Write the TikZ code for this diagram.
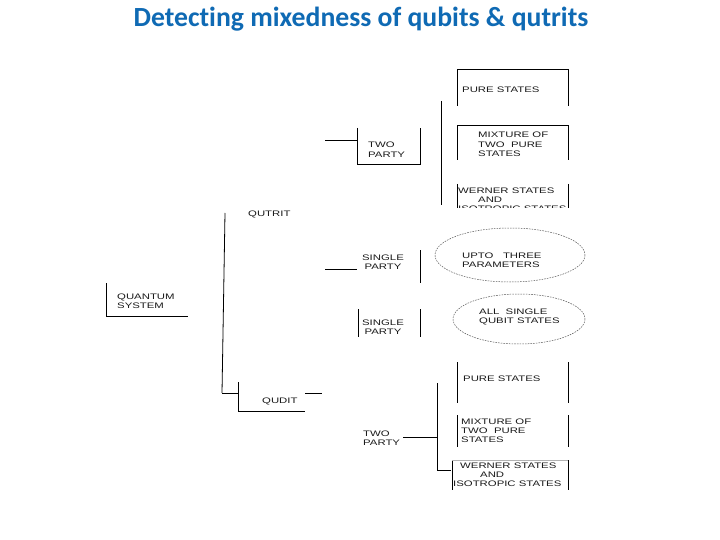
\documentclass[tikz,border=0pt]{standalone}
\usepackage{fontspec}
\setmainfont{Liberation Sans}
\newfontfamily\titlefont[Ligatures=NoCommon]{Carlito}
\newfontfamily\diagfont[FakeStretch=1.42]{Liberation Sans}
\definecolor{titleblue}{HTML}{0F6AB4}
\definecolor{ink}{HTML}{1A1A1A}
\begin{document}
\begin{tikzpicture}[x=1pt,y=-1pt,
  lbl/.style={inner sep=0pt,anchor=base west,align=left,text=ink,
    font=\diagfont\fontsize{8}{9.2}\selectfont},
  clbl/.style={lbl,anchor=base,align=center},
  ln/.style={draw=black,line width=0.8pt},
  oval/.style={draw=gray!70!black,line width=0.5pt,dash pattern=on 1.6pt off 1.1pt}]
\useasboundingbox (0,0) rectangle (720,540);
\fill[white] (0,0) rectangle (720,540);
% title
\node[inner sep=0pt,anchor=base,text=titleblue,font=\titlefont\bfseries\fontsize{27.7}{30}\selectfont] (title) at (361,27) {Detecting mixedness of qubits \& qutrits};
% quantum system (base anchor = last line)
\node[lbl] (qs) at (117,308.2) {QUANTUM\\SYSTEM};
\draw[ln] (106,283) -- (106,316) -- (188,316);
% main vertical
\draw[ln] (225,213) -- (222,393);
\node[lbl] (qutrit) at (248,216) {QUTRIT};
% qudit
\node[lbl] (qudit) at (262,403) {QUDIT};
\draw[ln] (222,393) -- (238,393);
\draw[ln] (238,382) -- (238,411) -- (305,411);
\draw[ln] (305,393) -- (322,393);
% qutrit two party
\draw[ln] (325,140) -- (357,140);
\draw[ln] (357,128) -- (357,164) -- (420,164) -- (420,128);
\node[lbl] (tp1) at (368,157.2) {TWO\\PARTY};
\draw[ln] (441,101) -- (441,205);
% pure states 1
\draw[ln] (457,106) -- (457,69) -- (568,69) -- (568,106);
\node[lbl] (ps1) at (462,93) {PURE STATES};
% mixture 1
\draw[ln] (457,160) -- (457,125) -- (568,125) -- (568,160);
\node[lbl] (mx1) at (478,156.4) {MIXTURE OF\\TWO\ \ PURE\\STATES};
% werner 1
\draw[ln] (457,184) -- (457,208);
\draw[ln] (568,184) -- (568,208);
\begin{scope}
\clip (440,170) rectangle (580,208);
\node[lbl] (wi1) at (458,211.4) {WERNER STATES\\\hspace*{20pt}AND\\ISOTROPIC STATES};
\end{scope}
% single party 1
\draw[ln] (325,269) -- (357,269);
\node[clbl] (sp1) at (383,269.2) {SINGLE\\PARTY};
\draw[ln] (420,250) -- (420,283);
\draw[oval] (510,255) ellipse [x radius=75, y radius=27];
\node[lbl] (up) at (462,267.5) {UPTO\ \ \ THREE\\PARAMETERS};
% single party 2
\draw[ln] (358,309) -- (358,337);
\draw[ln] (420,309) -- (420,337);
\node[clbl] (sp2) at (383,334.2) {SINGLE\\PARTY};
\draw[oval] (519,319) ellipse [x radius=66, y radius=25];
\node[lbl] (al) at (479,323.5) {ALL\ \ SINGLE\\QUBIT STATES};
% qudit two party
\node[lbl] (tp2) at (363,445.5) {TWO\\PARTY};
\draw[ln] (403,437) -- (437,437);
\draw[ln] (437,383) -- (437,470) -- (451,470);
% pure states 2
\draw[ln] (457,362) -- (457,403);
\draw[ln] (568,362) -- (568,403);
\node[lbl] (ps2) at (463,381) {PURE STATES};
% mixture 2
\draw[ln] (457,415) -- (457,447);
\draw[ln] (568,415) -- (568,447);
\node[lbl] (mx2) at (461,442.5) {MIXTURE OF\\TWO\ \ PURE\\STATES};
% werner 2
\draw[ln] (452,460) -- (452,490);
\draw[draw=gray!60,line width=0.5pt] (452,460) -- (568,460);
\draw[ln] (568,460) -- (568,490);
\node[lbl] (wi2) at (453,486.5) {\hspace*{7pt}WERNER STATES\\\hspace*{27pt}AND\\ISOTROPIC STATES};
\end{tikzpicture}
\end{document}
